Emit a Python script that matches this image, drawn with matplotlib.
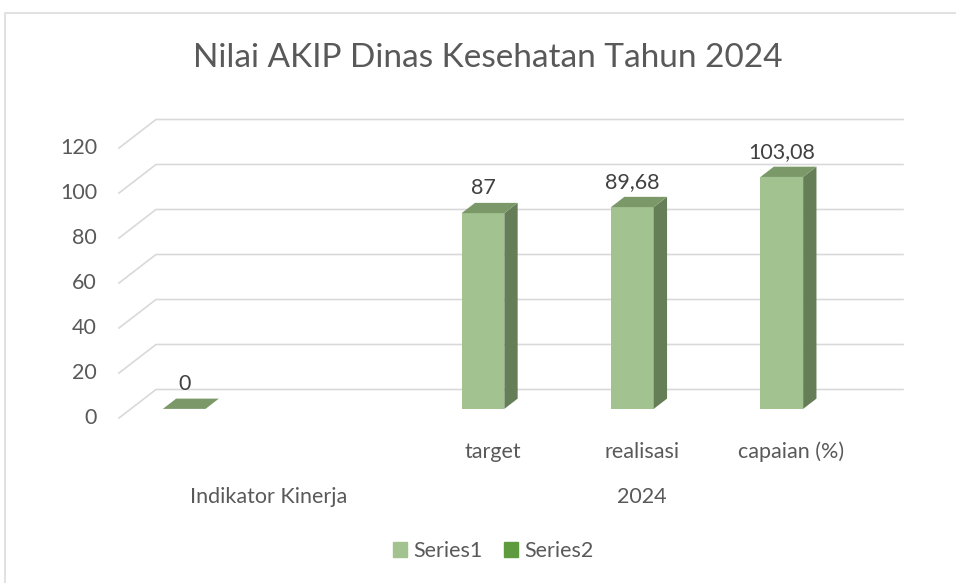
import matplotlib
matplotlib.use('Agg')
import matplotlib.pyplot as plt
from matplotlib.patches import Polygon, Rectangle, Patch

# data
categories = ['', '', 'target', 'realisasi', 'capaian (%)']
groups = ['Indikator Kinerja', '2024']
groupSpans = [(0, 1), (2, 4)]
series1 = [0, None, 87, 89.68, 103.08]
series2 = [None, None, None, None, None]
seriesNames = ['Series1', 'Series2']
yticks = [0, 20, 40, 60, 80, 100, 120]
title = 'Nilai AKIP Dinas Kesehatan Tahun 2024'

plt.rcParams['font.family'] = ['Lato', 'DejaVu Sans']
textColor = '#595959'
gridColor = '#D9D9D9'
frontColor = '#A2C38F'
sideColor = '#657E58'
topColor = '#7A9868'
series2Color = '#5E9A3E'
fs = 15.5

W, H = 956, 583
DEPTH_X, DEPTH_Y = 37, 28.5   # pixel offset of the back wall

fig = plt.figure(figsize=(W / 100, H / 100), dpi=100)
ax = fig.add_axes([119 / W, 1 - 418 / H, (866 - 119) / W, (418 - 148) / H])
ax.set_xlim(-0.5, len(categories) - 0.5)
ax.set_ylim(0, max(yticks))
ax.axis('off')


def depth(d):
    # depth fraction -> offset in data units
    x0, y0 = ax.transData.transform((0, 0))
    x1, y1 = ax.transData.inverted().transform((x0 + DEPTH_X * d, y0 + DEPTH_Y * d))
    return x1, y1


# walls / gridlines
bx, by = depth(1.0)
xmin, xmax = -0.5, len(categories) - 0.5
for v in yticks:
    ax.plot([xmin, xmin + bx, xmax + bx], [v, v + by, v + by], color=gridColor,
            lw=1.2, clip_on=False, zorder=1)
    ax.annotate(str(v), xy=(xmin, v), xytext=(-22, 0), textcoords='offset pixels',
                ha='right', va='center', fontsize=fs, color=textColor)

# 3d-ish columns
w = 1 / 3.5
f1x, f1y = depth(0.32)
f2x, f2y = depth(0.68)
for i, v in enumerate(series1):
    if v is None:
        continue
    left, right = i - w, i
    front = [(left + f1x, f1y), (right + f1x, f1y), (right + f1x, v + f1y), (left + f1x, v + f1y)]
    side = [(right + f1x, f1y), (right + f2x, f2y), (right + f2x, v + f2y), (right + f1x, v + f1y)]
    top = [(left + f1x, v + f1y), (right + f1x, v + f1y), (right + f2x, v + f2y), (left + f2x, v + f2y)]
    for pts, col in [(front, frontColor), (side, sideColor), (top, topColor)]:
        ax.add_patch(Polygon(pts, closed=True, fc=col, ec='none', clip_on=False, zorder=3))
    label = f"{v:g}".replace('.', ',')
    ax.annotate(label, xy=(i - w / 2 + f1x, v + f1y), xytext=(0, 25), textcoords='offset pixels',
                ha='center', va='center', fontsize=fs, color='#404040', zorder=4)

# category labels, two levels
for i, cat in enumerate(categories):
    if cat:
        ax.annotate(cat, xy=(i, 0), xytext=(0, -34), textcoords='offset pixels',
                    ha='center', va='center', fontsize=fs, color=textColor)
for name, (a, b) in zip(groups, groupSpans):
    ax.annotate(name, xy=((a + b) / 2, 0), xytext=(0, -79), textcoords='offset pixels',
                ha='center', va='center', fontsize=fs, color=textColor)

fig.text(488 / W, 1 - 58 / H, title, ha='center', va='center', fontsize=24,
         color=textColor)

handles = [Patch(color=frontColor, label=seriesNames[0]),
           Patch(color=series2Color, label=seriesNames[1])]
fig.legend(handles=handles, loc='center', bbox_to_anchor=(493 / W, 1 - 551 / H), ncol=2,
           frameon=False, fontsize=fs, handlelength=0.65, handleheight=0.65,
           handletextpad=0.3, columnspacing=1.0, labelcolor=textColor)

# chart area border
fig.patches.append(Rectangle((4.5 / W, -0.1), 1.2, 1.1 - 13.5 / H, transform=fig.transFigure,
                             fill=False, ec=gridColor, lw=1.1))

fig.savefig('out.png', dpi=100)
